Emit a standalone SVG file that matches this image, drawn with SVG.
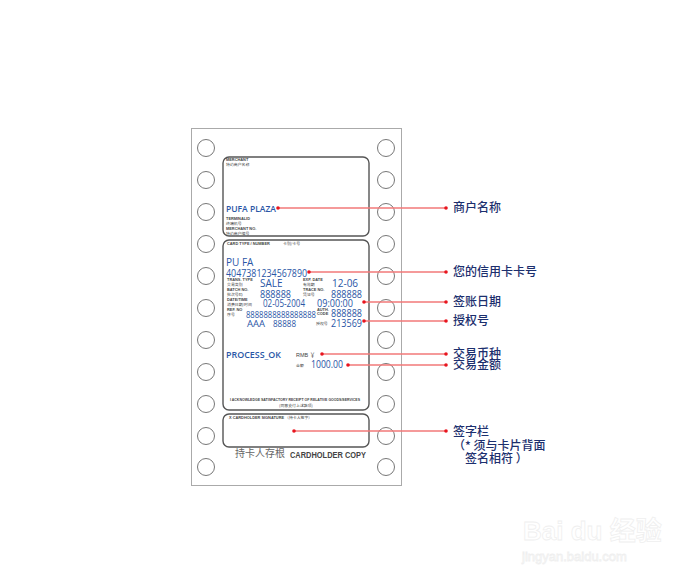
<svg xmlns="http://www.w3.org/2000/svg" width="683" height="580" viewBox="0 0 683 580">
<style>
.hole{fill:#fff;stroke:#777;stroke-width:1}
.box{fill:#fff;stroke:#555;stroke-width:1.4}
.t{font-family:"Liberation Sans","Noto Sans CJK SC",sans-serif;fill:#444}
.tiny{font-family:"Liberation Sans","Noto Sans CJK SC",sans-serif;font-size:3.9px;fill:#444;font-weight:bold}
.tc{font-family:"Noto Sans CJK SC",sans-serif;font-size:3.9px;fill:#444}
.b{font-family:"Open Sans","Noto Sans",sans-serif;fill:#2a56a6}
.lbl{font-family:"Noto Sans CJK SC",sans-serif;font-size:12px;font-weight:500;fill:#1c2f6e}
.ln{stroke:#f27878;stroke-width:1.3;fill:none}
.dot{fill:#e8141e}
.wm{font-family:"Liberation Sans","Noto Sans CJK SC",sans-serif;fill:none;stroke:#efefef;stroke-width:0.8}
</style>
<rect width="683" height="580" fill="#fff"/>
<g id="paper">
<rect x="191.5" y="128.5" width="210" height="357" fill="#fff" stroke="#aaa" stroke-width="1"/>
<g id="holes-left">
<circle class="hole" cx="206" cy="148" r="8.5"/><circle class="hole" cx="206" cy="180" r="8.5"/><circle class="hole" cx="206" cy="212" r="8.5"/><circle class="hole" cx="206" cy="244" r="8.5"/><circle class="hole" cx="206" cy="276" r="8.5"/><circle class="hole" cx="206" cy="308" r="8.5"/><circle class="hole" cx="206" cy="340" r="8.5"/><circle class="hole" cx="206" cy="372" r="8.5"/><circle class="hole" cx="206" cy="404" r="8.5"/><circle class="hole" cx="206" cy="436" r="8.5"/><circle class="hole" cx="206" cy="467" r="8.5"/>
</g>
<g id="holes-right">
<circle class="hole" cx="386" cy="148" r="8.5"/><circle class="hole" cx="386" cy="180" r="8.5"/><circle class="hole" cx="386" cy="212" r="8.5"/><circle class="hole" cx="386" cy="244" r="8.5"/><circle class="hole" cx="386" cy="276" r="8.5"/><circle class="hole" cx="386" cy="308" r="8.5"/><circle class="hole" cx="386" cy="340" r="8.5"/><circle class="hole" cx="386" cy="372" r="8.5"/><circle class="hole" cx="386" cy="404" r="8.5"/><circle class="hole" cx="386" cy="436" r="8.5"/><circle class="hole" cx="386" cy="467" r="8.5"/>
</g>
</g>
<g id="merchant-box">
<rect class="box" x="223" y="157" width="146" height="79" rx="6"/>
<text class="tiny" x="226" y="161">MERCHANT</text>
<text class="tc" x="226" y="166">特约商户名称</text>
<text class="b" x="226" y="212" font-size="9.5" font-weight="600" textLength="50" lengthAdjust="spacingAndGlyphs">PUFA PLAZA</text>
<text class="tiny" x="226" y="220" font-weight="normal">TERMINALID</text>
<text class="tc" x="226" y="225">终端机号</text>
<text class="tiny" x="226" y="230" font-weight="normal">MERCHANT NO.</text>
<text class="tc" x="226" y="235">特约商户编号</text>
</g>
<g id="card-box">
<rect class="box" x="223" y="240" width="146" height="170" rx="6"/>
<text class="tiny" x="227" y="245">CARD TYPE / NUMBER</text>
<text class="tc" x="283" y="244.5">卡别/卡号</text>
<text class="b" x="226" y="266" font-size="10">PU FA</text>
<text class="b" x="226" y="276.5" font-size="10" textLength="81" lengthAdjust="spacingAndGlyphs">4047381234567890</text>
<text class="tiny" x="227" y="281">TRANS. TYPE</text>
<text class="tc" x="227" y="285.5">交易类别</text>
<text class="b" x="260" y="287" font-size="10">SALE</text>
<text class="tiny" x="303" y="281">EXP. DATE</text>
<text class="tc" x="303" y="285.5">有效期</text>
<text class="b" x="332" y="287" font-size="10">12-06</text>
<text class="tiny" x="227" y="291">BATCH NO.</text>
<text class="tc" x="227" y="295.5">批次号码</text>
<text class="b" x="260" y="297.5" font-size="10" textLength="31" lengthAdjust="spacingAndGlyphs">888888</text>
<text class="tiny" x="303" y="291">TRACE NO.</text>
<text class="tc" x="303" y="295.5">凭证号</text>
<text class="b" x="331" y="297.5" font-size="10" textLength="31" lengthAdjust="spacingAndGlyphs">888888</text>
<text class="tiny" x="227" y="301">DATE/TIME</text>
<text class="tc" x="227" y="305.5">消费日期/时间</text>
<text class="b" x="263" y="306.5" font-size="10" textLength="42" lengthAdjust="spacingAndGlyphs">02-05-2004</text>
<text class="b" x="317" y="306.5" font-size="10" textLength="36" lengthAdjust="spacingAndGlyphs">09:00:00</text>
<text class="tiny" x="227" y="311">REF. NO</text>
<text class="tc" x="227" y="315.5">序号</text>
<text class="b" x="246" y="317.5" font-size="9" textLength="70" lengthAdjust="spacingAndGlyphs">8888888888888888</text>
<text class="tiny" x="317" y="310.5">AUTH.</text>
<text class="tiny" x="317" y="314.5">CODE</text>
<text class="b" x="331" y="317" font-size="10" textLength="31" lengthAdjust="spacingAndGlyphs">888888</text>
<text class="b" x="247" y="326.5" font-size="9.5">AAA</text>
<text class="b" x="273" y="326.5" font-size="9" textLength="23" lengthAdjust="spacingAndGlyphs">88888</text>
<text class="tc" x="316" y="325">授权号</text>
<text class="b" x="331" y="326.5" font-size="10" textLength="31" lengthAdjust="spacingAndGlyphs">213569</text>
<text class="b" x="226" y="358" font-size="9.5" font-weight="600" textLength="55" lengthAdjust="spacingAndGlyphs">PROCESS_OK</text>
<text class="t" x="296" y="357" font-size="5.5">RMB ￥</text>
<text class="tc" x="296" y="367">金额</text>
<text class="b" x="311" y="368" font-size="10" textLength="32" lengthAdjust="spacingAndGlyphs">1000.00</text>
<text class="tiny" x="230" y="401" font-size="3.6" textLength="130" lengthAdjust="spacingAndGlyphs">I ACKNOWLEDGE SATISFACTORY RECEIPT OF RELATIVE GOODS/SERVICES</text>
<text class="tc" x="296" y="406.5" text-anchor="middle">(同意支付上述款项)</text>
</g>
<g id="signature-box">
<rect class="box" x="223" y="414" width="146" height="33" rx="6"/>
<text class="tiny" x="229" y="419" font-size="3.6">X CARDHOLDER SIGNATURE</text>
<text class="tc" x="285" y="419">（持卡人签字）</text>
</g>
<g id="footer">
<text x="235" y="457" font-family="Noto Sans CJK SC,serif" font-size="10" fill="#666">持卡人存根</text>
<text x="290" y="458" font-family="Liberation Sans,sans-serif" font-size="8.5" font-weight="bold" fill="#444" textLength="76" lengthAdjust="spacingAndGlyphs">CARDHOLDER COPY</text>
</g>
<g id="connectors">
<line class="ln" x1="278" y1="208" x2="446" y2="208"/>
<line class="ln" x1="309" y1="272" x2="446" y2="272"/>
<line class="ln" x1="364" y1="302" x2="446" y2="302"/>
<line class="ln" x1="364" y1="321" x2="446" y2="321"/>
<line class="ln" x1="322" y1="354" x2="446" y2="354"/>
<line class="ln" x1="348" y1="365" x2="446" y2="365"/>
<line class="ln" x1="294" y1="431" x2="446" y2="431"/>
<circle class="dot" cx="278" cy="208" r="1.8"/><circle class="dot" cx="446" cy="208" r="1.8"/>
<circle class="dot" cx="309" cy="272" r="1.8"/><circle class="dot" cx="446" cy="272" r="1.8"/>
<circle class="dot" cx="364" cy="302" r="1.8"/><circle class="dot" cx="446" cy="302" r="1.8"/>
<circle class="dot" cx="364" cy="321" r="1.8"/><circle class="dot" cx="446" cy="321" r="1.8"/>
<circle class="dot" cx="322" cy="354" r="1.8"/><circle class="dot" cx="446" cy="354" r="1.8"/>
<circle class="dot" cx="348" cy="365" r="1.8"/><circle class="dot" cx="446" cy="365" r="1.8"/>
<circle class="dot" cx="294" cy="431" r="1.8"/><circle class="dot" cx="446" cy="431" r="1.8"/>
</g>
<g id="labels">
<text class="lbl" x="453" y="212">商户名称</text>
<text class="lbl" x="453" y="276">您的信用卡卡号</text>
<text class="lbl" x="453" y="306">签账日期</text>
<text class="lbl" x="453" y="325">授权号</text>
<text class="lbl" x="453" y="358">交易币种</text>
<text class="lbl" x="453" y="369">交易金额</text>
<text class="lbl" x="453" y="436">签字栏</text>
<text class="lbl" x="453" y="450">（* 须与卡片背面</text>
<text class="lbl" x="465" y="463">签名相符 ）</text>
</g>
<g id="watermark">
<text class="wm" x="523" y="540" font-size="26" font-weight="bold">Bai du 经验</text>
<text class="wm" x="522" y="561" font-size="13">jingyan.baidu.com</text>
</g>
</svg>
